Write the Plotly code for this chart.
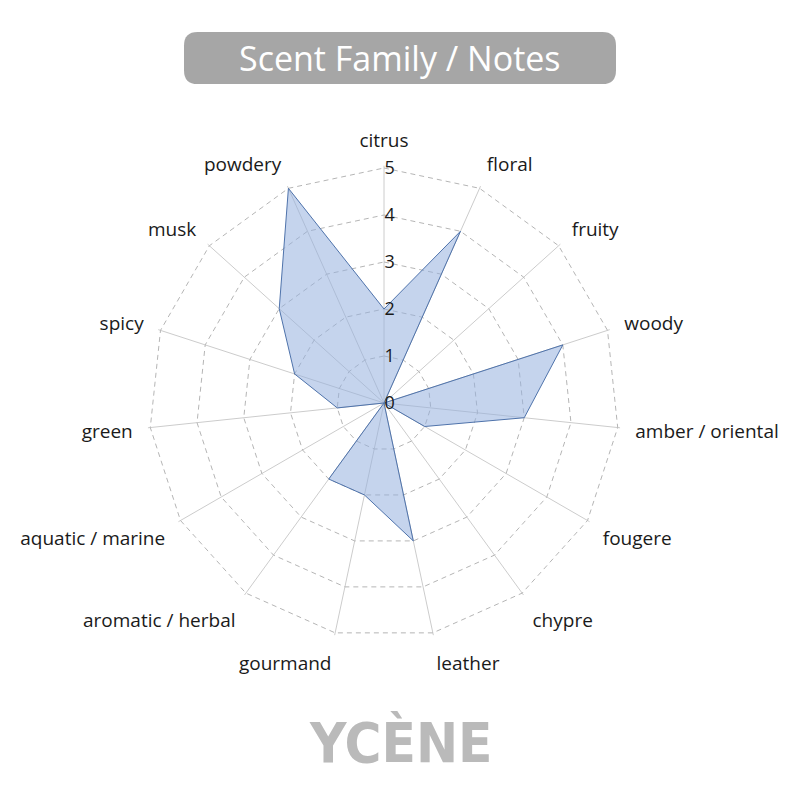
"""
Scent family radar chart for YCENE fragrance notes.
"""
import plotly.graph_objects as go

# data, clockwise from the top
CATEGORIES = ['citrus', 'floral', 'fruity', 'woody', 'amber / oriental', 'fougere', 'chypre',
              'leather', 'gourmand', 'aromatic / herbal', 'aquatic / marine', 'green', 'spicy',
              'musk', 'powdery']
SCORES = [2, 4, 0, 4, 3, 1, 0, 3, 2, 2, 0, 1, 2, 3, 5]
TICK_VALUES = [0, 1, 2, 3, 4, 5]

TITLE = "Scent Family / Notes"
BRAND = "YCÈNE"

W = H = 800
OFF = 8  # the page body adds an 8px margin, so pull everything back by that much


def px_x(x):
    return (x - OFF) / W


def px_y(y):
    return 1 - (y - OFF) / H


def rounded_box(x0, y0, x1, y1, r, ry):
    # svg path for a rounded rectangle in paper units
    return (f"M {x0 + r},{y0} L {x1 - r},{y0} Q {x1},{y0} {x1},{y0 + ry} "
            f"L {x1},{y1 - ry} Q {x1},{y1} {x1 - r},{y1} L {x0 + r},{y1} "
            f"Q {x0},{y1} {x0},{y1 - ry} L {x0},{y0 + ry} Q {x0},{y0} {x0 + r},{y0} Z")


closed_theta = CATEGORIES + CATEGORIES[:1]

fig = go.Figure()

# dashed polygon rings (griddash on the radial axis turns the grid back into circles)
for t in TICK_VALUES[1:]:
    fig.add_trace(go.Scatterpolar(
        r=[t] * len(closed_theta),
        theta=closed_theta,
        mode='lines',
        line=dict(color='#b5b5b5', width=1, dash='5px,4px'),
        hoverinfo='skip',
    ))

fig.add_trace(go.Scatterpolar(
    r=SCORES + SCORES[:1],
    theta=closed_theta,
    mode='lines',
    fill='toself',
    fillcolor='rgba(150,177,222,0.55)',
    line=dict(color='#4f73ab', width=1),
    hoverinfo='skip',
))

r_max = 5.05
cx, cy, rad = 384, 403, 235 * r_max / 5
fig.update_layout(
    width=W, height=H,
    margin=dict(l=0, r=0, t=0, b=0),
    paper_bgcolor='white',
    showlegend=False,
    font=dict(family='Open Sans, Noto Sans, sans-serif', color='#1a1a1a', size=19),
    polar=dict(
        domain=dict(x=[px_x(cx - rad), px_x(cx + rad)], y=[px_y(cy + rad), px_y(cy - rad)]),
        bgcolor='white',
        gridshape='linear',
        radialaxis=dict(
            range=[0, r_max],
            tickvals=TICK_VALUES,
            angle=90,
            tickangle=90,
            showline=False,
            showgrid=False,
            ticks='',
            tickfont=dict(size=18, color='#1a1a1a'),
        ),
        angularaxis=dict(
            type='category',
            direction='clockwise',
            rotation=90,
            showline=False,
            ticks='outside',
            ticklen=11,
            tickcolor='rgba(0,0,0,0)',
            gridcolor='#cccccc',
            gridwidth=1,
            tickfont=dict(size=19, color='#1a1a1a'),
        ),
    ),
)

# title box
fig.add_shape(
    type='path', xref='paper', yref='paper',
    path=rounded_box(px_x(184), px_y(84), px_x(616), px_y(32), 0.017, 0.017),
    fillcolor='#a6a6a6', line=dict(width=0), layer='below',
)
fig.add_annotation(
    x=px_x(400), y=px_y(58), xref='paper', yref='paper',
    xanchor='center', yanchor='middle',
    text=TITLE, showarrow=False,
    font=dict(family='Open Sans, Noto Sans, sans-serif', size=34, color='white'),
)

# brand mark
fig.add_annotation(
    x=px_x(400), y=px_y(742), xref='paper', yref='paper',
    xanchor='center', yanchor='middle',
    text=f"<b>{BRAND}</b>", showarrow=False,
    font=dict(family='DejaVu Sans Condensed, sans-serif', size=56, color='#bababa'),
)

fig.write_html("out.html")
